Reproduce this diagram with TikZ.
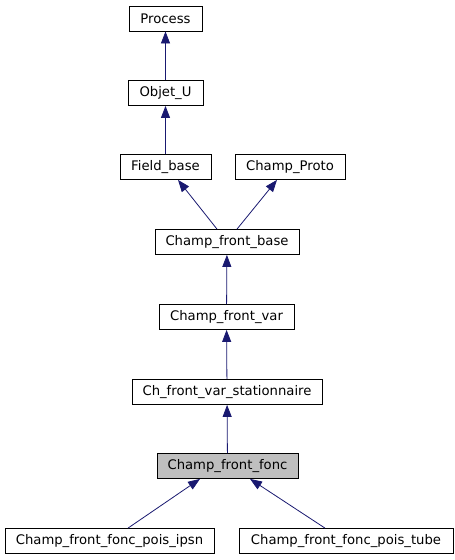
\documentclass[tikz,border=0pt]{standalone}
\usepackage{fontspec}
\setmainfont{DejaVu Sans}
\usetikzlibrary{arrows.meta}
\definecolor{edgeblue}{HTML}{191970}
\definecolor{nodegray}{HTML}{BFBFBF}

\begin{document}
\begin{tikzpicture}[x=1pt,y=-1pt,
    cls/.style={draw=black, line width=0.8pt, fill=white, minimum height=25pt, inner sep=0pt, font=\fontsize{13.2}{15}\selectfont},
    inh/.style={draw=edgeblue, line width=0.8pt, -{Triangle[length=12pt,width=9pt]}}]
    \useasboundingbox (0,0) rectangle (455,560);

    \node[cls, minimum width=73pt] (proc) at (165.5,18.5) {Process};
    \node[cls, minimum width=75pt] (obj) at (165.5,93) {Objet\_U};
    \node[cls, minimum width=91pt] (fb) at (165.5,167) {Field\_base};
    \node[cls, minimum width=110pt] (proto) at (290,167) {Champ\_Proto};
    \node[cls, minimum width=144pt] (cfb) at (227,242) {Champ\_front\_base};
    \node[cls, minimum width=135pt] (cfv) at (226.5,317) {Champ\_front\_var};
    \node[cls, minimum width=190pt] (cfvs) at (227,392) {Ch\_front\_var\_stationnaire};
    \node[cls, minimum width=141pt, fill=nodegray] (cff) at (227.5,466) {Champ\_front\_fonc};
    \node[cls, minimum width=209pt] (ipsn) at (109.5,541) {Champ\_front\_fonc\_pois\_ipsn};
    \node[cls, minimum width=214pt] (tube) at (346,541) {Champ\_front\_fonc\_pois\_tube};

    % inheritance
    \draw[inh] (obj) -- (proc);
    \draw[inh] (fb) -- (obj);
    \draw[inh] ([xshift=-10pt]cfb.north) -- ([xshift=12.5pt]fb.south);
    \draw[inh] ([xshift=10pt]cfb.north) -- ([xshift=-13pt]proto.south);
    \draw[inh] (cfv) -- (cfb);
    \draw[inh] (cfvs) -- (cfv);
    \draw[inh] (cff) -- (cfvs);
    \draw[inh] ([xshift=18.5pt]ipsn.north) -- ([xshift=-27.5pt]cff.south);
    \draw[inh] ([xshift=-21pt]tube.north) -- ([xshift=22.5pt]cff.south);

\end{tikzpicture}
\end{document}
